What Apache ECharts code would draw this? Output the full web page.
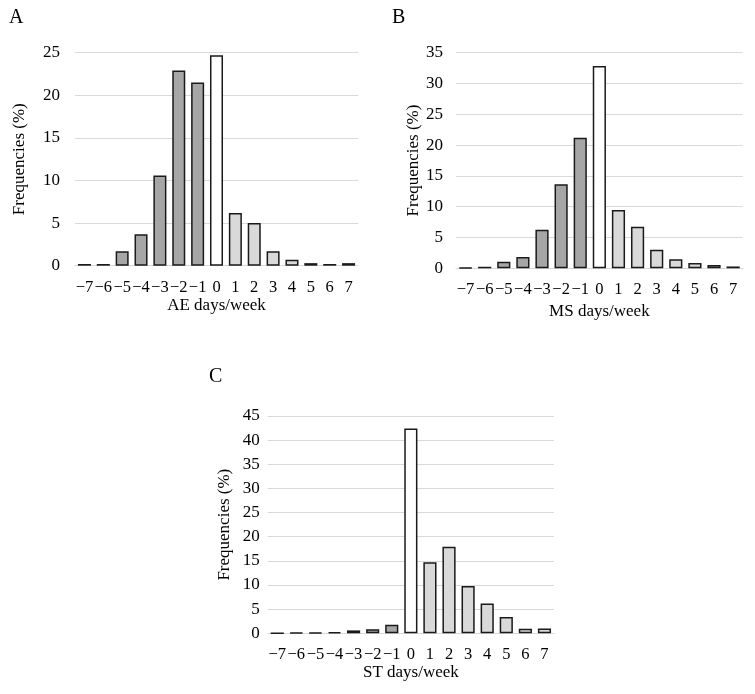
<!DOCTYPE html>
<html>
<head>
<meta charset="utf-8">
<script src="https://cdn.jsdelivr.net/npm/echarts@6/dist/echarts.min.js"></script>
<style>
html,body{margin:0;padding:0;background:#fff;}
#c{width:755px;height:694px;}
</style>
</head>
<body>
<div id="c"></div>
<script>
const categories = ["−7","−6","−5","−4","−3","−2","−1","0","1","2","3","4","5","6","7"];
const aeValues = [0.2, 0.2, 1.7, 3.7, 10.6, 22.9, 21.5, 24.7, 6.2, 5.0, 1.7, 0.7, 0.3, 0.2, 0.3];
const msValues = [0.1, 0.25, 1.05, 1.85, 6.25, 13.65, 21.2, 32.85, 9.45, 6.75, 3.0, 1.45, 0.85, 0.55, 0.3];
const stValues = [0, 0.15, 0.15, 0.25, 0.6, 0.85, 1.75, 42.4, 14.7, 17.9, 9.8, 6.15, 3.4, 0.95, 1.0];
const axisTitles = ["AE days/week", "MS days/week", "ST days/week"];
const panelLetters = ["A", "B", "C"];
const yMax = [25, 35, 45];
const yInterval = 5;

const FONT = "Liberation Serif";
const NEG = "#a6a6a6", ZERO = "#ffffff", POS = "#d9d9d9";
function colorFor(i){ return i < 7 ? NEG : (i === 7 ? ZERO : POS); }

const grids = [
  {left: 75, top: 52.7, width: 283, height: 213},
  {left: 456, top: 52.7, width: 286.7, height: 215.6},
  {left: 267.7, top: 416, width: 286.3, height: 217.3}
];
const yNameGaps = [47, 33, 35];
const yLabelMargins = [15, 13, 8];
const xNameGaps = [31, 35, 31];
const allValues = [aeValues, msValues, stValues];

const option = {
  backgroundColor: "#fff",
  animation: false,
  textStyle: {fontFamily: FONT},
  title: panelLetters.map((t, i) => ({
    text: t,
    left: [4, 387, 204][i],
    top: [3, 3, 362][i],
    textStyle: {fontFamily: FONT, fontSize: 20, fontWeight: "normal", color: "#000"}
  })),
  grid: grids,
  xAxis: grids.map((g, i) => ({
    type: "category",
    gridIndex: i,
    data: categories,
    name: axisTitles[i],
    nameLocation: "middle",
    nameGap: xNameGaps[i],
    nameTextStyle: {fontFamily: FONT, fontSize: 17, color: "#000"},
    axisLine: {lineStyle: {color: "#d9d9d9", width: 1}},
    axisTick: {show: false},
    axisLabel: {fontFamily: FONT, fontSize: 16.5, color: "#000", margin: 13, interval: 0}
  })),
  yAxis: grids.map((g, i) => ({
    type: "value",
    gridIndex: i,
    min: 0,
    max: yMax[i],
    interval: yInterval,
    name: "Frequencies (%)",
    nameLocation: "middle",
    nameGap: yNameGaps[i],
    nameTextStyle: {fontFamily: FONT, fontSize: 17, color: "#000"},
    axisLine: {show: false},
    axisTick: {show: false},
    splitLine: {lineStyle: {color: "#d9d9d9", width: 1}},
    axisLabel: {fontFamily: FONT, fontSize: 17, color: "#000", margin: yLabelMargins[i]}
  })),
  series: allValues.map((vals, i) => ({
    type: "bar",
    xAxisIndex: i,
    yAxisIndex: i,
    barCategoryGap: "31%",
    data: vals.map((v, j) => ({
      value: v,
      itemStyle: {color: colorFor(j), borderColor: "#1a1a1a", borderWidth: 1.5}
    }))
  }))
};

const chart = echarts.init(document.getElementById("c"), null, {renderer: "canvas"});
chart.setOption(option);
</script>
</body>
</html>
